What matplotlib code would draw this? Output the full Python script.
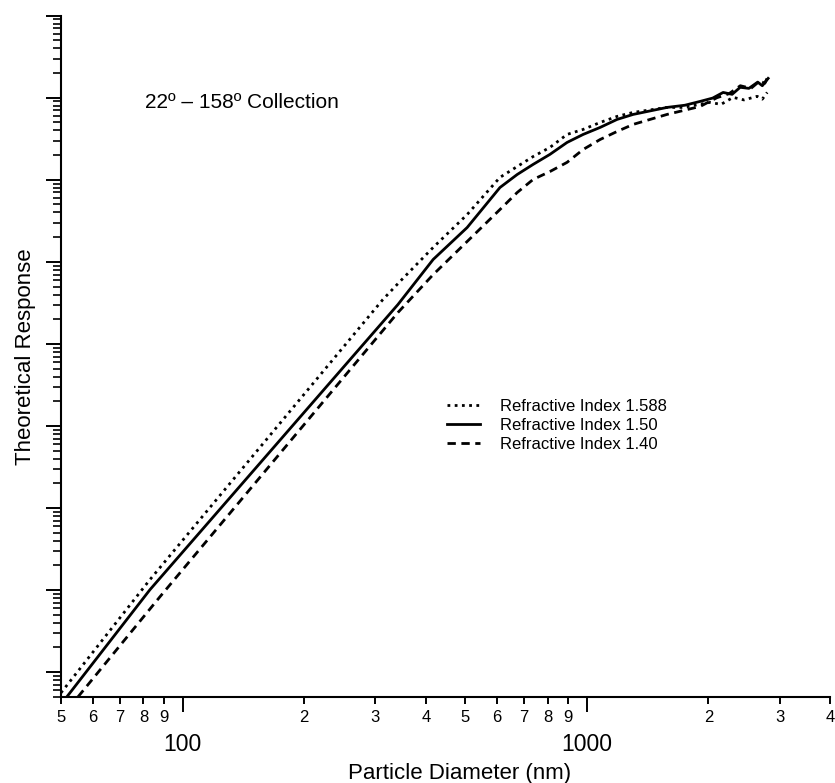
import matplotlib
matplotlib.use("Agg")
import matplotlib.pyplot as plt
from matplotlib.ticker import LogLocator, FixedLocator, FixedFormatter, NullFormatter

plt.rcParams['font.family'] = ['Liberation Sans', 'DejaVu Sans']

# Refractive index 1.588 (dotted)
d_1588 = [50, 83, 313, 345, 417, 506, 610, 673, 737, 811, 894, 980, 1080, 1189,
          1303, 1581, 1733, 2018, 2150, 2303, 2450, 2641, 2720, 2797]
r_1588 = [0.56, 13.4, 3.47e4, 5.76e4, 1.5e5, 3.77e5, 1.07e6, 1.45e6, 1.92e6, 2.48e6,
          3.57e6, 4.11e6, 5.0e6, 5.92e6, 6.62e6, 7.62e6, 7.62e6, 8.77e6, 8.3e6,
          1.01e7, 9.4e6, 1.04e7, 9.6e6, 1.16e7]

# Refractive index 1.50 (solid)
d_150 = [51.7, 83, 341, 417, 506, 610, 673, 737, 811, 894, 980, 1080, 1189, 1303,
         1581, 1750, 1909, 2050, 2176, 2290, 2398, 2520, 2650, 2720, 2812]
r_150 = [0.5, 10.1, 3.015e4, 1.07e5, 2.62e5, 8.05e5, 1.16e6, 1.54e6, 2.04e6, 2.85e6,
         3.57e6, 4.35e6, 5.44e6, 6.26e6, 7.62e6, 8.1e6, 9.02e6, 9.9e6, 1.16e7,
         1.1e7, 1.34e7, 1.3e7, 1.55e7, 1.4e7, 1.72e7]

# Refractive index 1.40 (dashed)
d_140 = [55.1, 87.9, 341, 417, 506, 610, 673, 737, 811, 894, 980, 1080, 1189, 1303,
         1581, 1909, 2100, 2250, 2400, 2550, 2680, 2760, 2812]
r_140 = [0.5, 8.3, 2.41e4, 7.0e4, 1.77e5, 4.34e5, 7.0e5, 1.01e6, 1.26e6, 1.63e6,
         2.34e6, 3.1e6, 3.88e6, 4.73e6, 6.26e6, 7.83e6, 1.0e7, 1.12e7, 1.4e7,
         1.3e7, 1.6e7, 1.5e7, 1.85e7]

labels = ["Refractive Index 1.588", "Refractive Index 1.50", "Refractive Index 1.40"]

fig = plt.figure(figsize=(8.35, 7.83), dpi=100)
ax = fig.add_axes([0.073, 0.110, 0.921, 0.870])

ax.plot(d_1588, r_1588, color='black', lw=2.0, linestyle=(0, (1, 1.6)), label=labels[0])
ax.plot(d_150, r_150, color='black', lw=2.0, linestyle='-', label=labels[1])
ax.plot(d_140, r_140, color='black', lw=2.0, linestyle=(0, (3, 2)), label=labels[2])

ax.set_xscale('log')
ax.set_yscale('log')
ax.set_xlim(50, 4000)
ax.set_ylim(0.5, 1e8)

for s in ['top', 'right']:
    ax.spines[s].set_visible(False)
for s in ['left', 'bottom']:
    ax.spines[s].set_linewidth(1.5)

ax.xaxis.set_major_locator(FixedLocator([100, 1000]))
ax.xaxis.set_major_formatter(FixedFormatter(["100", "1000"]))
minor_x = [50, 60, 70, 80, 90, 200, 300, 400, 500, 600, 700, 800, 900, 2000, 3000, 4000]
ax.xaxis.set_minor_locator(FixedLocator(minor_x))
ax.xaxis.set_minor_formatter(FixedFormatter([str(v)[0] for v in minor_x]))

ax.yaxis.set_major_locator(LogLocator(base=10, numticks=20))
ax.yaxis.set_minor_locator(LogLocator(base=10, subs=range(2, 10), numticks=20))
ax.yaxis.set_major_formatter(NullFormatter())
ax.yaxis.set_minor_formatter(NullFormatter())

ax.tick_params(axis='x', which='major', direction='out', length=10.8, width=1.4,
               labelsize=16.5, pad=15.5)
ax.tick_params(axis='x', which='minor', direction='out', length=5.2, width=1.4,
               labelsize=12, pad=4)
ax.tick_params(axis='y', which='major', direction='out', length=10.8, width=1.4)
ax.tick_params(axis='y', which='minor', direction='out', length=5.8, width=1.2)

ax.set_xlabel("Particle Diameter (nm)", fontsize=16, labelpad=5, x=0.518)
ax.set_ylabel("Theoretical Response", fontsize=16, labelpad=4)

ax.text(0.109, 0.872, "22º – 158º Collection", transform=ax.transAxes,
        fontsize=15, ha='left', va='center')

leg = ax.legend(loc='upper left', bbox_to_anchor=(0.502, 0.438), frameon=False,
                fontsize=12, handlelength=2.0, handletextpad=1.2, labelspacing=0.25,
                borderaxespad=0, borderpad=0)

fig.savefig("out.png", dpi=100)
